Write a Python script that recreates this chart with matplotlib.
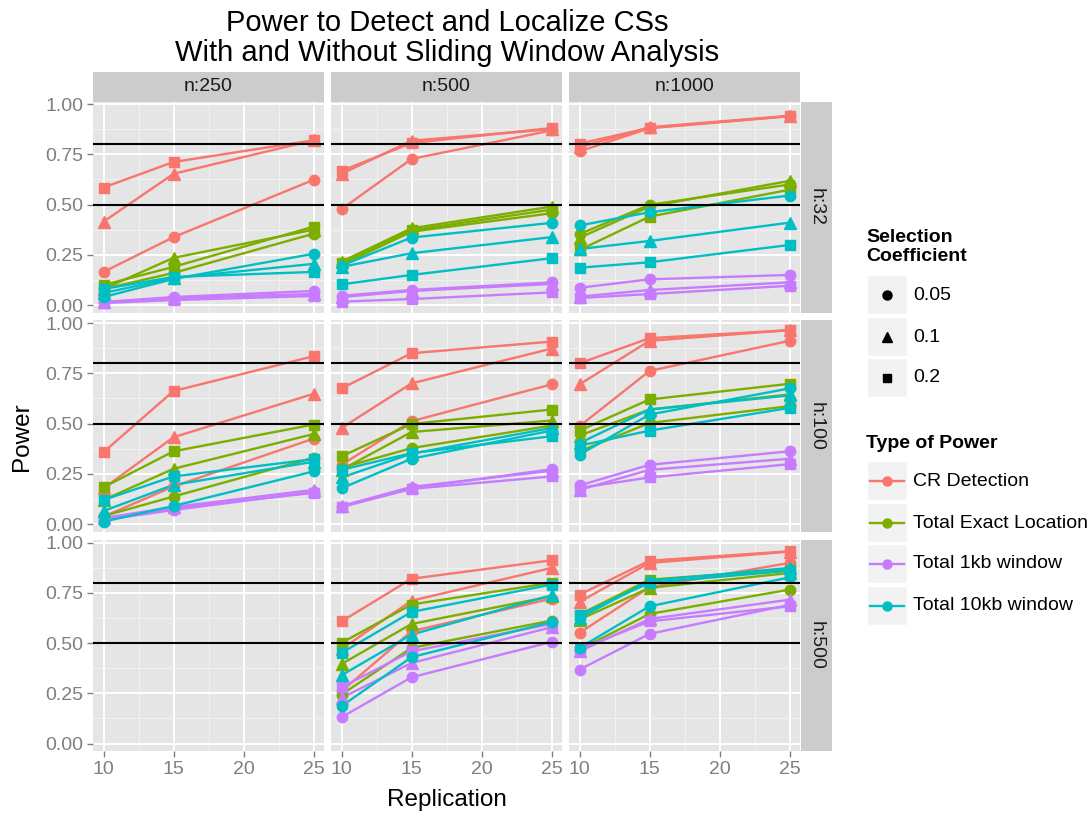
import matplotlib
matplotlib.use("Agg")
import matplotlib.pyplot as plt
from matplotlib.patches import Rectangle

plt.rcParams['font.family'] = ['Liberation Sans', 'DejaVu Sans']

# facet levels and series
n_levels = [250, 500, 1000]
h_levels = [32, 100, 500]
reps = [10, 15, 25]
coefs = ["0.05", "0.1", "0.2"]
power_types = ["CR Detection", "Total Exact Location", "Total 1kb window", "Total 10kb window"]
type_colors = ["#F8766D", "#7CAE00", "#C77CFF", "#00BFC4"]
coef_markers = ["o", "^", "s"]
coef_sizes = [7.5, 8, 7]

# power per panel: rows are (type, coefficient) in the order above,
# columns are replication 10, 15, 25
h32_n250 = [
    [0.165, 0.338, 0.623], [0.415, 0.653, 0.820], [0.585, 0.712, 0.820],
    [0.080, 0.160, 0.355], [0.080, 0.235, 0.375], [0.100, 0.190, 0.390],
    [0.015, 0.040, 0.070], [0.015, 0.035, 0.055], [0.010, 0.025, 0.045],
    [0.040, 0.130, 0.255], [0.060, 0.135, 0.205], [0.080, 0.140, 0.165],
]
h32_n500 = [
    [0.477, 0.727, 0.869], [0.653, 0.818, 0.875], [0.668, 0.806, 0.881],
    [0.200, 0.365, 0.457], [0.216, 0.382, 0.490], [0.210, 0.372, 0.475],
    [0.046, 0.075, 0.113], [0.040, 0.070, 0.105], [0.017, 0.030, 0.063],
    [0.196, 0.336, 0.409], [0.190, 0.258, 0.338], [0.103, 0.150, 0.233],
]
h32_n1000 = [
    [0.765, 0.880, 0.940], [0.785, 0.885, 0.942], [0.803, 0.882, 0.940],
    [0.353, 0.499, 0.600], [0.335, 0.490, 0.618], [0.274, 0.440, 0.574],
    [0.086, 0.128, 0.150], [0.042, 0.075, 0.113], [0.035, 0.055, 0.096],
    [0.396, 0.462, 0.545], [0.279, 0.319, 0.410], [0.186, 0.213, 0.299],
]
h100_n250 = [
    [0.037, 0.187, 0.425], [0.178, 0.432, 0.648], [0.358, 0.662, 0.835],
    [0.040, 0.137, 0.330], [0.120, 0.275, 0.448], [0.183, 0.362, 0.495],
    [0.020, 0.070, 0.160], [0.030, 0.085, 0.170], [0.025, 0.080, 0.155],
    [0.012, 0.090, 0.262], [0.065, 0.195, 0.310], [0.120, 0.237, 0.323],
]
h100_n500 = [
    [0.295, 0.512, 0.695], [0.478, 0.700, 0.873], [0.675, 0.850, 0.908],
    [0.280, 0.378, 0.490], [0.270, 0.458, 0.515], [0.337, 0.498, 0.570],
    [0.087, 0.178, 0.273], [0.090, 0.185, 0.265], [0.085, 0.175, 0.237],
    [0.178, 0.325, 0.465], [0.232, 0.350, 0.478], [0.270, 0.353, 0.437],
]
h100_n1000 = [
    [0.487, 0.762, 0.912], [0.695, 0.912, 0.965], [0.800, 0.925, 0.965],
    [0.362, 0.503, 0.587], [0.440, 0.570, 0.645], [0.465, 0.620, 0.698],
    [0.192, 0.295, 0.362], [0.170, 0.270, 0.325], [0.180, 0.232, 0.298],
    [0.345, 0.545, 0.675], [0.403, 0.570, 0.640], [0.390, 0.465, 0.578],
]
h500_n500 = [
    [0.260, 0.559, 0.721], [0.470, 0.711, 0.874], [0.608, 0.820, 0.912],
    [0.244, 0.476, 0.612], [0.396, 0.595, 0.733], [0.501, 0.692, 0.800],
    [0.131, 0.330, 0.506], [0.227, 0.401, 0.579], [0.280, 0.459, 0.595],
    [0.186, 0.430, 0.605], [0.340, 0.542, 0.738], [0.451, 0.655, 0.791],
]
h500_n1000 = [
    [0.551, 0.778, 0.899], [0.705, 0.899, 0.955], [0.741, 0.910, 0.957],
    [0.468, 0.645, 0.766], [0.617, 0.775, 0.849], [0.642, 0.816, 0.866],
    [0.368, 0.546, 0.690], [0.459, 0.620, 0.716], [0.470, 0.608, 0.683],
    [0.476, 0.683, 0.827], [0.625, 0.810, 0.874], [0.640, 0.800, 0.860],
]
panel_data = {
    (32, 250): h32_n250, (32, 500): h32_n500, (32, 1000): h32_n1000,
    (100, 250): h100_n250, (100, 500): h100_n500, (100, 1000): h100_n1000,
    (500, 250): None, (500, 500): h500_n500, (500, 1000): h500_n1000,
}
ref_lines = [0.5, 0.8]

W, H = 1089, 815
fig = plt.figure(figsize=(W / 100, H / 100), dpi=100)


def px_axes(left, top, width, height):
    return fig.add_axes([left / W, 1 - (top + height) / H, width / W, height / H])


grey50 = "#7F7F7F"
col_left = [93, 331, 569]
row_top = [101.5, 320.5, 540]
panel_w, panel_h = 231, 211

for i, h in enumerate(h_levels):
    for j, n in enumerate(n_levels):
        ax = px_axes(col_left[j], row_top[i], panel_w, panel_h)
        ax.set_facecolor("#E5E5E5")
        ax.set_xlim(9.25, 25.75)
        ax.set_ylim(-0.037, 1.013)
        ax.set_xticks([10, 15, 20, 25])
        ax.set_xticks([12.5, 17.5, 22.5], minor=True)
        ax.set_yticks([0, 0.25, 0.5, 0.75, 1.0])
        ax.set_yticklabels(["0.00", "0.25", "0.50", "0.75", "1.00"])
        ax.set_yticks([0.125, 0.375, 0.625, 0.875], minor=True)
        ax.set_axisbelow(True)
        ax.grid(which="major", color="white", lw=1.4)
        ax.grid(which="minor", color="#F2F2F2", lw=0.7)
        for s in ax.spines.values():
            s.set_visible(False)
        ax.tick_params(which="minor", length=0)
        ax.tick_params(which="major", length=4, width=1, color=grey50,
                       labelsize=14, labelcolor=grey50, pad=3)
        if j > 0:
            ax.tick_params(axis="y", left=False, labelleft=False)
        if i < 2:
            ax.tick_params(axis="x", bottom=False, labelbottom=False)

        data = panel_data[(h, n)]
        if data is not None:
            for t in range(len(power_types)):
                for k in range(len(coefs)):
                    ax.plot(reps, data[t * 3 + k], color=type_colors[t], lw=1.7, zorder=2)
            for t in range(len(power_types)):
                for k in range(len(coefs)):
                    ax.plot(reps, data[t * 3 + k], ls="none", marker=coef_markers[k],
                            ms=coef_sizes[k], color=type_colors[t], mec=type_colors[t], zorder=3)
        for y in ref_lines:
            ax.axhline(y, color="black", lw=1.5, zorder=4)

        if i == 0:
            sx = px_axes(col_left[j], 71.5, panel_w, 30)
            sx.set_facecolor("#CCCCCC")
            sx.set_xticks([]); sx.set_yticks([])
            for s in sx.spines.values():
                s.set_visible(False)
            sx.text(0.5, 0.5, f"n:{n}", ha="center", va="center", fontsize=14,
                    color="#1A1A1A", transform=sx.transAxes)
        if j == 2:
            sy = px_axes(801, row_top[i], 31, panel_h)
            sy.set_facecolor("#CCCCCC")
            sy.set_xticks([]); sy.set_yticks([])
            for s in sy.spines.values():
                s.set_visible(False)
            sy.text(0.5, 0.5, f"h:{h}", ha="center", va="center", fontsize=14,
                    rotation=-90, color="#1A1A1A", transform=sy.transAxes)

fig.text(447 / W, 1 - 38 / H,
         "Power to Detect and Localize CSs\nWith and Without Sliding Window Analysis",
         ha="center", va="center", fontsize=21, linespacing=1.1)
fig.text(447 / W, 1 - 800 / H, "Replication", ha="center", va="center", fontsize=17.5)
fig.text(22 / W, 1 - 437 / H, "Power", ha="center", va="center", fontsize=17.5, rotation=90)

# legends, laid out in pixel coordinates
lax = fig.add_axes([0, 0, 1, 1])
lax.set_xlim(0, W)
lax.set_ylim(H, 0)
lax.axis("off")

lax.text(866, 247, "Selection\nCoefficient", ha="left", va="center", fontsize=14,
         fontweight="bold", linespacing=1.15)
for k, y0 in enumerate([275, 317, 358]):
    lax.add_patch(Rectangle((866.5, y0), 40, 39, facecolor="#F2F2F2", edgecolor="white", lw=1))
    lax.plot([886.5], [y0 + 19.5], ls="none", marker=coef_markers[k],
             ms=coef_sizes[k] - 1, color="black")
    lax.text(913, y0 + 20, coefs[k], ha="left", va="center", fontsize=14)

lax.text(866, 443, "Type of Power", ha="left", va="center", fontsize=14, fontweight="bold")
for t, y0 in enumerate([461, 503, 544, 586]):
    lax.add_patch(Rectangle((866.5, y0), 40, 39, facecolor="#F2F2F2", edgecolor="white", lw=1))
    lax.plot([869.5, 903.5], [y0 + 19.5, y0 + 19.5], color=type_colors[t], lw=1.7)
    lax.plot([886.5], [y0 + 19.5], ls="none", marker="o", ms=6.5, color=type_colors[t])
    lax.text(913, y0 + 20, power_types[t], ha="left", va="center", fontsize=14)

fig.savefig("out.png", dpi=100)
